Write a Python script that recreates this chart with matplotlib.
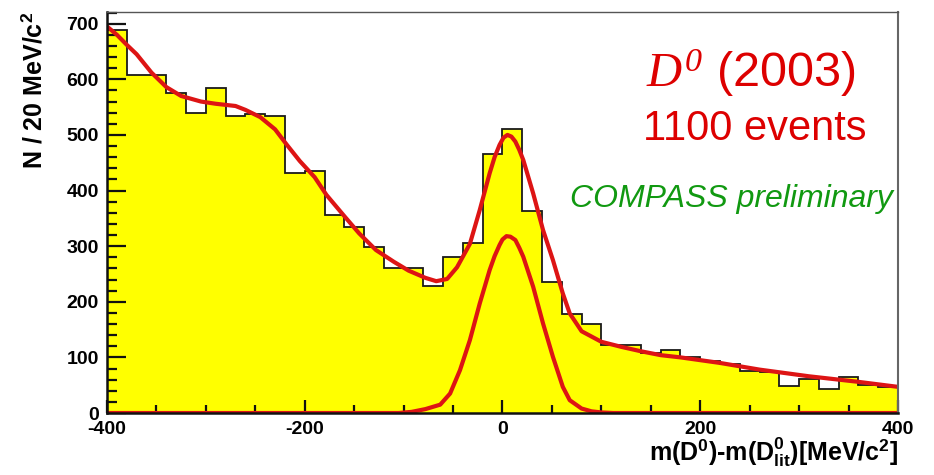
import numpy as np
import matplotlib
matplotlib.use("Agg")
from matplotlib import pyplot as plt
from matplotlib.ticker import MultipleLocator

plt.rcParams['font.family'] = ['Liberation Sans', 'DejaVu Sans']
plt.rcParams['axes.unicode_minus'] = False
plt.rcParams['mathtext.fontset'] = 'custom'
plt.rcParams['mathtext.it'] = 'Liberation Serif:italic'
plt.rcParams['mathtext.cal'] = 'Liberation Serif:italic'
plt.rcParams['mathtext.rm'] = 'Liberation Sans'
plt.rcParams['mathtext.bf'] = 'Liberation Sans:bold'

# D0 candidates per 20 MeV bin, m(D0) - m(D0_lit) from -400 to 400 MeV
bin_edges = np.arange(-400, 401, 20)
counts = [689, 608, 608, 575, 539, 584, 534, 537, 534, 431,
          436, 356, 335, 299, 260, 260, 228, 281, 305, 466,
          511, 363, 236, 178, 160, 122, 122, 107, 114, 101,
          93, 89, 76, 74, 49, 62, 43, 65, 50, 47]

# total fit (signal + background)
fit_x = [-400, -390, -380, -370, -355, -340, -325, -305, -290, -270,
         -260, -245, -230, -218, -205, -190, -178, -160, -145, -128,
         -110, -95, -78, -67, -56, -46, -33, -23, -13, -8,
         -3, 1, 5, 9, 13, 17, 21, 31, 41, 51,
         61, 68, 80, 100, 120, 140, 160, 180, 200, 220,
         260, 310, 360, 400]
fit_y = [695, 680, 662, 645, 612, 586, 570, 560, 556, 552,
         545, 532, 510, 482, 453, 424, 392, 354, 323, 293,
         272, 256, 243, 237, 241, 262, 304, 365, 431, 460,
         482, 495, 500, 497, 488, 473, 455, 395, 329, 275,
         215, 179, 147, 128, 119, 111, 104, 100, 95, 90,
         78, 66, 56, 47]

# gaussian signal component
sig_x = [-400, -105, -92, -78, -63, -53, -43, -33, -23, -13,
         -8, -3, 0, 4, 8, 13, 17, 21, 31, 41,
         51, 61, 68, 80, 90, 100, 112, 400]
sig_y = [0, 0, 2, 7, 15, 35, 77, 131, 197, 257,
         282, 302, 312, 318, 317, 311, 297, 281, 227, 161,
         101, 47, 23, 8, 3, 1, 0, 0]

W, H = 934, 475
fig = plt.figure(figsize=(W / 100, H / 100), dpi=100)
ax = fig.add_axes([107 / W, 1 - 413 / H, (898 - 107) / W, (413 - 12) / H])

ax.stairs(counts, bin_edges, baseline=0, fill=True, facecolor='#ffff00',
          edgecolor='none', zorder=1)
ax.stairs(counts, bin_edges, baseline=0, color='#1a1a1a', lw=1.3, zorder=2)

red = '#dd1414'
ax.plot(fit_x, fit_y, color=red, lw=3, solid_capstyle='round',
        solid_joinstyle='round', zorder=3)
ax.plot(sig_x, sig_y, color=red, lw=3, solid_capstyle='round',
        solid_joinstyle='round', zorder=3)

ax.set_xlim(-400, 400)
ax.set_ylim(0, 721)

ax.xaxis.set_major_locator(MultipleLocator(200))
ax.xaxis.set_minor_locator(MultipleLocator(50))
ax.yaxis.set_major_locator(MultipleLocator(100))
ax.yaxis.set_minor_locator(MultipleLocator(20))
ax.tick_params(which='both', direction='in', top=False, right=False,
               color='#111111', width=1.6, labelsize=14)
ax.tick_params(axis='y', which='major', length=14, pad=6)
ax.tick_params(axis='y', which='minor', length=7.5)
ax.tick_params(axis='x', which='major', length=9.5, pad=6)
ax.tick_params(axis='x', which='minor', length=5.5)
for lab in ax.get_xticklabels() + ax.get_yticklabels():
    lab.set_fontweight('bold')

for side in ('left', 'bottom'):
    ax.spines[side].set_color('#111111')
    ax.spines[side].set_linewidth(1.8)
ax.spines['top'].set_color('#555555')
ax.spines['top'].set_linewidth(1.0)
ax.spines['right'].set_color('#666666')
ax.spines['right'].set_linewidth(1.5)
for sp in ax.spines.values():
    sp.set_zorder(5)

ax.set_ylabel(r'N / 20 MeV/c$^{\mathbf{2}}$', fontsize=18, fontweight='bold',
              loc='top', labelpad=14)
ax.set_xlabel(r'm(D$^{\mathbf{0}}$)-m(D$^{\mathbf{0}}_{\mathbf{lit}}$)[MeV/c$^{\mathbf{2}}$]',
              fontsize=18, fontweight='bold', loc='right', labelpad=-2)

fig.text(751 / W, 1 - 87 / H, r'$D^{\mathcal{0}}$ (2003)', color='#dd0000',
         fontsize=35, ha='center', va='baseline')
fig.text(755 / W, 1 - 140 / H, '1100 events', color='#dd0000',
         fontsize=30, ha='center', va='baseline')
fig.text(893 / W, 1 - 207 / H, 'COMPASS preliminary', color='#119911',
         fontsize=23, style='italic', ha='right', va='baseline')

fig.savefig('out.png', dpi=100)
